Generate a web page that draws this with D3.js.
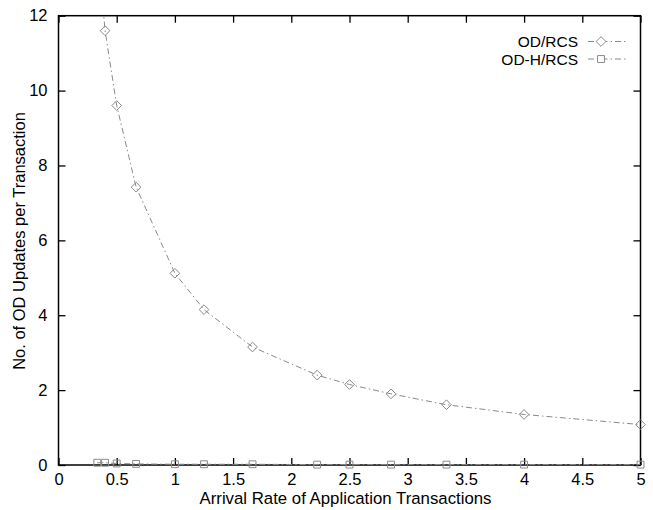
<!DOCTYPE html>
<html><head><meta charset="utf-8">
<script src="https://cdn.jsdelivr.net/npm/d3@7"></script>
<style>body{margin:0;background:#fff;} svg{display:block;}</style>
</head><body>
<script>
const xValues = [0.333, 0.4, 0.5, 0.667, 1, 1.25, 1.667, 2.222, 2.5, 2.857, 3.333, 4, 5];
const odRcs   = [14.0, 11.6, 9.6, 7.42, 5.12, 4.15, 3.15, 2.4, 2.15, 1.9, 1.61, 1.35, 1.08];
const odhRcs  = [0.06, 0.06, 0.04, 0.03, 0.02, 0.02, 0.02, 0.01, 0.01, 0.01, 0.01, 0.01, 0.01];
const seriesNames = ["OD/RCS", "OD-H/RCS"];
const xTicks = [0, 0.5, 1, 1.5, 2, 2.5, 3, 3.5, 4, 4.5, 5];
const yTicks = [0, 2, 4, 6, 8, 10, 12];

(function () {
const W = 653, H = 510;
const m = {l: 58.5, r: 12.5, t: 15.7, b: 45};
const svg = d3.select("body").append("svg").attr("width", W).attr("height", H);
const x = d3.scaleLinear().domain([0, 5]).range([m.l, W - m.r]);
const y = d3.scaleLinear().domain([0, 12]).range([H - m.b, m.t]);
const font = "'Liberation Sans', Arial, Helvetica, sans-serif";

svg.append("clipPath").attr("id", "clip").append("rect")
  .attr("x", m.l).attr("y", m.t).attr("width", x(5) - m.l).attr("height", y(0) - m.t);

const tl = 7;
const gBottom = svg.append("g").attr("transform", `translate(0,${y(0)})`)
  .call(d3.axisBottom(x).tickValues(xTicks).tickFormat(d3.format("")).tickSizeInner(-tl).tickSizeOuter(0).tickPadding(8));
const gTop = svg.append("g").attr("transform", `translate(0,${m.t})`)
  .call(d3.axisTop(x).tickValues(xTicks).tickFormat("").tickSizeInner(-tl).tickSizeOuter(0));
const gLeft = svg.append("g").attr("transform", `translate(${m.l},0)`)
  .call(d3.axisLeft(y).tickValues(yTicks).tickFormat(d3.format("")).tickSizeInner(-tl).tickSizeOuter(0).tickPadding(11));
const gRight = svg.append("g").attr("transform", `translate(${x(5)},0)`)
  .call(d3.axisRight(y).tickValues(yTicks).tickFormat("").tickSizeInner(-tl).tickSizeOuter(0));
[gBottom, gTop, gLeft, gRight].forEach(g => {
  g.select(".domain").remove();
  g.selectAll("line").attr("stroke", "#000").attr("stroke-width", 1.3);
  g.selectAll("text").attr("font-family", font).attr("font-size", 16.5).attr("fill", "#000");
});
svg.append("rect").attr("x", m.l).attr("y", m.t).attr("width", x(5) - m.l).attr("height", y(0) - m.t)
  .attr("fill", "none").attr("stroke", "#000").attr("stroke-width", 1.5);

svg.append("text").attr("x", (m.l + x(5)) / 2 - 4).attr("y", 503.5).attr("text-anchor", "middle")
  .attr("font-family", font).attr("font-size", 16.8).text("Arrival Rate of Application Transactions");
svg.append("text").attr("transform", `translate(25,241) rotate(-90)`).attr("text-anchor", "middle")
  .attr("font-family", font).attr("font-size", 16.5).text("No. of OD Updates per Transaction");

const lineCol = "#8a8a8a";
const dash = "6,3,1.5,3";
const series = [odRcs, odhRcs];
const line = d3.line().x(d => x(d[0])).y(d => y(d[1]));
const diamond = d3.symbol().type(d3.symbolDiamond2).size(60);
const square = d3.symbol().type(d3.symbolSquare2).size(60);
const syms = [diamond, square];

series.forEach((vals, i) => {
  const pts = xValues.map((xv, j) => [xv, vals[j]]);
  svg.append("path").datum(pts).attr("d", line).attr("fill", "none")
    .attr("stroke", lineCol).attr("stroke-width", 1).attr("stroke-dasharray", dash)
    .attr("clip-path", "url(#clip)");
  svg.selectAll(null).data(pts.filter(p => p[1] <= 12)).enter().append("path")
    .attr("d", syms[i]).attr("transform", p => `translate(${x(p[0])},${y(p[1])})`)
    .attr("fill", "none").attr("stroke", lineCol).attr("stroke-width", 1);
  const ly = 41.5 + i * 17.5;
  svg.append("text").attr("x", 578).attr("y", ly + 5.5).attr("text-anchor", "end")
    .attr("font-family", font).attr("font-size", 15.5).text(seriesNames[i]);
  svg.append("line").attr("x1", 588).attr("x2", 626).attr("y1", ly).attr("y2", ly)
    .attr("stroke", lineCol).attr("stroke-width", 1).attr("stroke-dasharray", dash);
  svg.append("path").attr("d", syms[i]).attr("transform", `translate(601,${ly})`)
    .attr("fill", "#fff").attr("stroke", lineCol).attr("stroke-width", 1);
});
})();
</script>
</body></html>
